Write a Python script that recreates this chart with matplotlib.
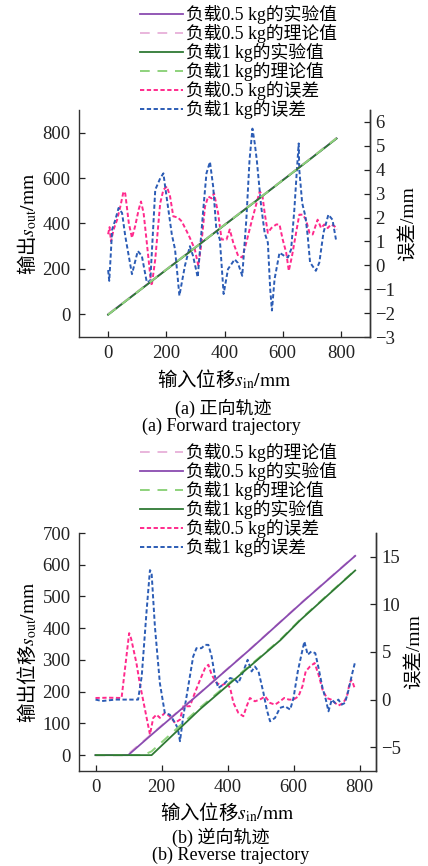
import numpy as np
import matplotlib.pyplot as plt

plt.rcParams['font.family'] = ['Liberation Serif', 'Noto Sans CJK SC']
plt.rcParams['mathtext.fontset'] = 'stix'
plt.rcParams['axes.unicode_minus'] = True

# ---------- (a) 正向轨迹 ----------
a_line_x = [0, 100, 200, 300, 400, 500, 600, 700, 785]
a_exp_05 = [0, 98, 197, 295, 394, 492, 591, 690, 775]
a_th_05 = [0, 99, 198, 296, 395, 493, 592, 691, 777]
a_exp_1 = [-2, 97, 196, 294, 393, 491, 590, 689, 774]
a_th_1 = [-1, 98, 197, 295, 394, 492, 591, 690, 776]

a_err05_x = [0, 5, 10, 19, 31, 42, 53, 59, 71, 82, 93, 105, 113, 122, 133, 145, 150, 162,
             179, 190, 202, 213, 224, 240, 253, 270, 281, 298, 310, 321, 333, 344, 356, 364,
             378, 390, 407, 418, 430, 447, 461, 475, 492, 507, 521, 530, 538, 549, 561, 578,
             589, 600, 612, 621, 632, 646, 657, 669, 680, 692, 703, 720, 732, 743, 755, 766,
             778, 786]
a_err05 = [1.3, 1.6, 1.0, 1.5, 1.91, 2.46, 3.09, 3.0, 1.78, 1.15, 1.64, 2.33, 2.67, 2.19, 0.95,
           -0.44, -0.85, 0.25, 2.6, 3.16, 3.3, 2.88, 2.05, 2.0, 1.84, 1.43, 1.15, 0.67, -0.02,
           0.95, 2.46, 2.88, 2.8, 3.02, 2.19, 1.08, 1.08, 1.5, 0.95, 0.39, 0.33, 0.95, 1.78,
           2.46, 3.09, 2.95, 2.19, 1.36, 1.56, 1.71, 1.71, 1.08, 0.53, -0.23, 0.39, 1.36, 2.12,
           2.12, 1.91, 1.36, 1.29, 1.91, 1.56, 1.71, 1.56, 1.71, 1.64, 1.5]

a_err1_x = [0, 4, 14, 25, 36, 48, 59, 82, 102, 116, 133, 145, 162, 179, 190, 196, 219, 230,
            245, 264, 281, 292, 308, 327, 338, 350, 361, 372, 384, 397, 412, 435, 446, 461,
            475, 486, 496, 504, 511, 526, 538, 549, 557, 563, 572, 589, 606, 618, 629, 640,
            648, 655, 657, 667, 678, 686, 694, 714, 726, 740, 757, 771, 783]
a_err1 = [-0.2, -0.65, 1.5, 1.91, 2.4, 2.19, 1.22, -0.37, 0.6, 0.39, -0.71, -0.65, 3.16, 3.64,
          3.85, 3.3, 1.29, 0.67, -1.27, -0.02, 0.8, 0.39, -0.5, 2.33, 3.85, 4.33, 3.3, 1.5,
          1.08, -1.2, -0.16, 0.25, 0.1, -0.44, 1.91, 4.4, 5.72, 5.1, 4.4, 2.46, 1.36, 0.95,
          -0.99, -1.89, -0.58, 0.53, 0.39, 0.33, 0.67, 2.33, 3.85, 5.1, 4.0, 2.6, 2.05, 1.22,
          0.12, -0.23, 0.12, 1.36, 2.12, 1.91, 1.08]

# ---------- (b) 逆向轨迹 ----------
b_x_05 = [0, 99, 165, 317, 468, 630, 787]
b_exp_05 = [0, 0, 60, 196, 333, 485, 628]
b_th_05_x = [0, 95, 165, 317, 468, 630, 787]
b_th_05 = [0, 0, 62, 197, 334, 486, 629]
b_x_1 = [0, 170, 317, 440, 560, 620, 787]
b_exp_1 = [0, 0, 145, 255, 362, 425, 582]
b_th_1_x = [0, 145, 170, 317, 440, 560, 620, 787]
b_th_1 = [0, 0, 12, 150, 258, 364, 427, 583]

b_err05_x = [0, 40, 79, 89, 102, 108, 124, 134, 150, 165, 175, 185, 195, 210, 225, 241, 256,
             266, 276, 286, 301, 317, 332, 342, 352, 367, 382, 397, 408, 418, 433, 448, 458,
             468, 483, 498, 514, 529, 544, 559, 572, 586, 600, 615, 627, 637, 650, 664, 676,
             688, 701, 714, 726, 736, 751, 762, 769, 775, 780, 785]
b_err05 = [0.17, 0.2, 0.17, 3.14, 6.98, 6.4, 3.84, 1.74, -1.05, -3.67, -1.92, -1.58, -1.92,
           -1.4, -1.75, -2.45, -2.1, -0.7, -0.7, -0.7, 0.7, 2.09, 3.31, 3.66, 2.61, 1.74, 1.5,
           1.74, 1.22, -0.35, -1.4, -1.75, -0.7, 0.17, -0.18, 0.0, 0.34, -0.35, -0.53, -0.18,
           0.17, 0.0, 0.0, 0.34, 1.39, 2.96, 3.48, 3.84, 2.61, 1.04, 0.17, 0.0, -0.35, -0.63,
           -0.35, 0.34, 1.57, 2.09, 1.74, 1.22]

b_err1_x = [0, 20, 60, 129, 140, 155, 165, 170, 180, 195, 210, 225, 235, 249, 256, 266, 281,
            296, 306, 321, 332, 342, 352, 362, 372, 387, 408, 423, 433, 448, 461, 473, 483,
            494, 509, 519, 529, 544, 559, 574, 590, 600, 613, 625, 633, 643, 654, 666, 676,
            688, 698, 706, 716, 726, 736, 746, 756, 767, 777, 787]
b_err1 = [0.0, -0.15, 0.0, 0.0, 2.43, 9.4, 13.6, 13.3, 7.67, 1.74, -1.4, -1.58, -2.1, -2.97,
          -4.37, -1.75, 1.39, 4.53, 5.4, 5.4, 5.75, 5.75, 4.53, 2.43, 1.22, 1.57, 2.27, 2.1,
          1.74, 2.96, 4.18, 2.96, 3.48, 2.96, 0.7, -1.05, -2.28, -1.92, -0.87, -0.7, -1.05,
          0.17, 2.96, 4.88, 6.1, 4.71, 5.06, 4.88, 3.31, 1.22, 0.0, -1.23, 0.0, -0.35, 0.0,
          -0.53, -0.35, 1.04, 2.61, 4.0]

C_EXP05 = '#8a4bb0'
C_TH05 = '#e9b6dc'
C_EXP1 = '#2f7a34'
C_TH1 = '#8ed27c'
C_ERR05 = '#ff2a8c'
C_ERR1 = '#2b5cb5'
ERR_DASH = (0, (2.2, 1.3))
TH_DASH = (0, (5, 4))
CJK = 'Noto Sans CJK SC'

fig = plt.figure(figsize=(4.28, 8.66), dpi=100)


def style(ax, ax2):
    for a in (ax, ax2):
        a.spines['top'].set_visible(False)
        for s in a.spines.values():
            s.set_linewidth(1.0)
            s.set_color('#333333')
        a.tick_params(direction='in', length=4, width=0.9, labelsize=13.5, colors='#222222')
    ax.tick_params(axis='both', pad=6)
    ax2.tick_params(axis='y', pad=4)
    ax2.spines['left'].set_visible(False)
    ax2.spines['bottom'].set_visible(False)


def make_legend(handles, y):
    fig.legend(handles=handles, loc='upper left', bbox_to_anchor=(140 / 428, y),
               frameon=False, fontsize=12.8, handlelength=2.4, handletextpad=0.2,
               labelspacing=0.0, borderpad=0, borderaxespad=0)


# ----- panel (a) -----
ax = fig.add_axes([79 / 428, 1 - 337 / 866, 291 / 428, 227 / 866])
ax2 = ax.twinx()
h1, = ax.plot(a_line_x, a_exp_05, color=C_EXP05, lw=1.3, label='负载0.5 kg的实验值')
h2, = ax.plot(a_line_x, a_th_05, color=C_TH05, lw=1.4, ls=TH_DASH, label='负载0.5 kg的理论值')
h3, = ax.plot(a_line_x, a_exp_1, color=C_EXP1, lw=1.3, label='负载1 kg的实验值')
h4, = ax.plot(a_line_x, a_th_1, color=C_TH1, lw=1.4, ls=TH_DASH, label='负载1 kg的理论值')
h5, = ax2.plot(a_err05_x, a_err05, color=C_ERR05, lw=1.4, ls=ERR_DASH, label='负载0.5 kg的误差')
h6, = ax2.plot(a_err1_x, a_err1, color=C_ERR1, lw=1.4, ls=ERR_DASH, label='负载1 kg的误差')
ax.set_zorder(ax2.get_zorder() + 1)
ax.patch.set_visible(False)
ax.set_xlim(-100, 900)
ax.set_ylim(-100, 900)
ax.set_xticks([0, 200, 400, 600, 800])
ax.set_yticks([0, 200, 400, 600, 800])
ax2.set_ylim(-3, 6.5)
ax2.set_yticks(range(-3, 7))
style(ax, ax2)
ax.set_xlabel('输入位移$s_{\\mathrm{in}}/\\mathrm{mm}$', fontsize=14, family=CJK, labelpad=4)
ax.set_ylabel('输出$s_{\\mathrm{out}}/\\mathrm{mm}$', fontsize=14, family=CJK, labelpad=2)
ax2.set_ylabel('误差/mm', fontsize=14, labelpad=3)
make_legend([h1, h2, h3, h4, h5, h6], 1 - 5 / 866)
fig.text(223 / 428, 1 - 408 / 866, '(a) 正向轨迹', ha='center', va='center', fontsize=13)
fig.text(221 / 428, 1 - 426 / 866, '(a) Forward trajectory', ha='center', va='center', fontsize=13)

# ----- panel (b) -----
bx = fig.add_axes([79 / 428, 1 - 771 / 866, 297 / 428, 238 / 866])
bx2 = bx.twinx()
g2, = bx.plot(b_th_05_x, b_th_05, color=C_TH05, lw=1.4, ls=TH_DASH, label='负载0.5 kg的理论值')
g1, = bx.plot(b_x_05, b_exp_05, color=C_EXP05, lw=1.3, label='负载0.5 kg的实验值')
g4, = bx.plot(b_th_1_x, b_th_1, color=C_TH1, lw=1.4, ls=TH_DASH, label='负载1 kg的理论值')
g3, = bx.plot(b_x_1, b_exp_1, color=C_EXP1, lw=1.3, label='负载1 kg的实验值')
g5, = bx2.plot(b_err05_x, b_err05, color=C_ERR05, lw=1.4, ls=ERR_DASH, label='负载0.5 kg的误差')
g6, = bx2.plot(b_err1_x, b_err1, color=C_ERR1, lw=1.4, ls=ERR_DASH, label='负载1 kg的误差')
bx.set_zorder(bx2.get_zorder() + 1)
bx.patch.set_visible(False)
bx.set_xlim(-50, 850)
bx.set_ylim(-50, 700)
bx.set_xticks([0, 200, 400, 600, 800])
bx.set_yticks(range(0, 701, 100))
bx2.set_ylim(-7.5, 17.5)
bx2.set_yticks([-5, 0, 5, 10, 15])
style(bx, bx2)
bx.set_xlabel('输入位移$s_{\\mathrm{in}}/\\mathrm{mm}$', fontsize=14, family=CJK, labelpad=3)
bx.set_ylabel('输出位移$s_{\\mathrm{out}}/\\mathrm{mm}$', fontsize=14, family=CJK, labelpad=2)
bx2.set_ylabel('误差/mm', fontsize=14, labelpad=3)
make_legend([g2, g1, g4, g3, g5, g6], 1 - 443 / 866)
fig.text(221 / 428, 1 - 837 / 866, '(b) 逆向轨迹', ha='center', va='center', fontsize=13)
fig.text(231 / 428, 1 - 855 / 866, '(b) Reverse trajectory', ha='center', va='center', fontsize=13)

fig.savefig('out.png', dpi=100)
